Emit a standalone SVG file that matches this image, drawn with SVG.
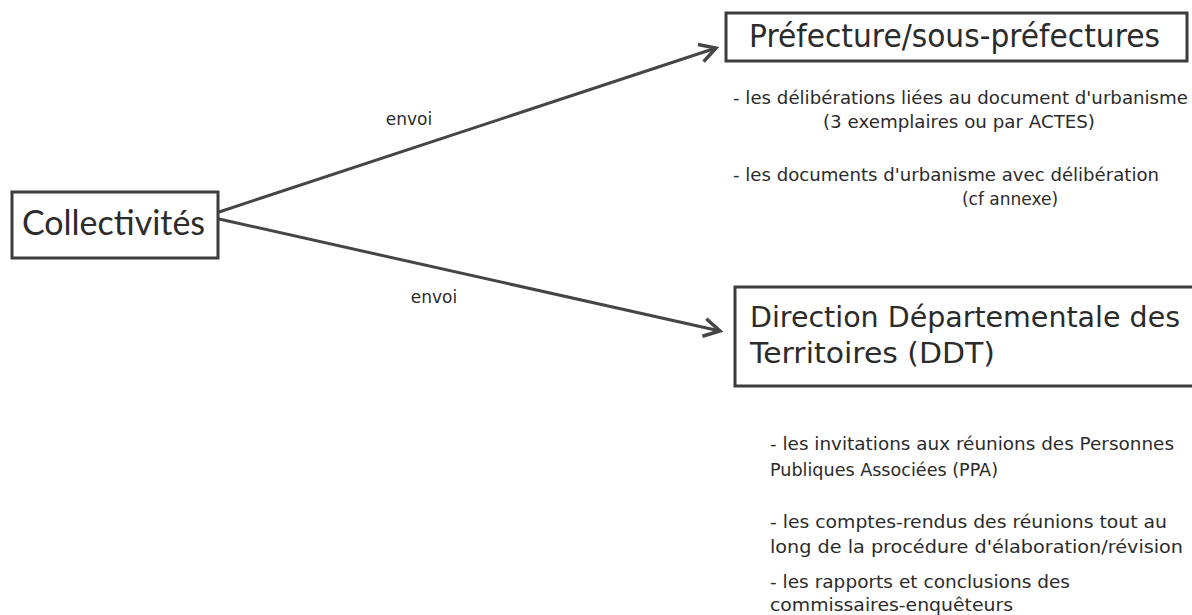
<svg xmlns="http://www.w3.org/2000/svg" width="1192" height="615" viewBox="0 0 1192 615">
  <style>
    .box { fill: #ffffff; stroke: #3c3c3c; stroke-width: 3; }
    .title { font-family: "DejaVu Sans", Verdana, sans-serif; font-size: 32px; fill: #2b2b2b; }
    .ddt { font-family: "DejaVu Sans", Verdana, sans-serif; font-size: 29px; fill: #2b2b2b; }
    .coll { font-family: Lato, "Open Sans", sans-serif; font-size: 34px; fill: #2b2b2b; }
    .small { font-family: "DejaVu Sans", Verdana, sans-serif; font-size: 17px; fill: #2b2b2b; }
    .edge { stroke: #454545; stroke-width: 3; fill: none; }
  </style>
  <defs>
    <marker id="arrow" viewBox="0 0 24 24" refX="21" refY="12" markerWidth="24" markerHeight="24" markerUnits="userSpaceOnUse" orient="auto">
      <path d="M5,3 L21,12 L5,21" fill="none" stroke="#454545" stroke-width="3.5" stroke-linejoin="miter"/>
    </marker>
  </defs>
  <rect width="1192" height="615" fill="#ffffff"/>

  <g id="connectors">
    <line class="edge" x1="219" y1="212" x2="716" y2="48" marker-end="url(#arrow)"/>
    <line class="edge" x1="219" y1="219" x2="720" y2="331" marker-end="url(#arrow)"/>
    <text class="small" x="409" y="125" text-anchor="middle">envoi</text>
    <text class="small" x="434" y="303" text-anchor="middle">envoi</text>
  </g>

  <g id="node-collectivites">
    <rect class="box" x="12" y="192" width="206" height="66"/>
    <text class="coll" x="22" y="235" textLength="183" lengthAdjust="spacingAndGlyphs">Collectivités</text>
  </g>

  <g id="node-prefecture">
    <rect class="box" x="726" y="13" width="461" height="48"/>
    <text class="title" x="749" y="47" textLength="411" lengthAdjust="spacingAndGlyphs">Préfecture/sous-préfectures</text>
  </g>

  <g id="notes-prefecture">
    <text class="small" x="733" y="104" textLength="455" lengthAdjust="spacingAndGlyphs">- les délibérations liées au document d'urbanisme</text>
    <text class="small" x="823" y="128" textLength="272" lengthAdjust="spacingAndGlyphs">(3 exemplaires ou par ACTES)</text>
    <text class="small" x="733" y="181" textLength="426" lengthAdjust="spacingAndGlyphs">- les documents d'urbanisme avec délibération</text>
    <text class="small" x="1010" y="205" text-anchor="middle">(cf annexe)</text>
  </g>

  <g id="node-ddt">
    <path class="box" d="M1192,287 L735,287 L735,386 L1192,386"/>
    <text class="ddt" x="750" y="327" textLength="430" lengthAdjust="spacingAndGlyphs">Direction Départementale des</text>
    <text class="ddt" x="750" y="363" textLength="245" lengthAdjust="spacingAndGlyphs">Territoires (DDT)</text>
  </g>

  <g id="notes-ddt">
    <text class="small" x="770" y="450" textLength="404" lengthAdjust="spacingAndGlyphs">- les invitations aux réunions des Personnes</text>
    <text class="small" x="770" y="476" textLength="228" lengthAdjust="spacingAndGlyphs">Publiques Associées (PPA)</text>
    <text class="small" x="770" y="528" textLength="397" lengthAdjust="spacingAndGlyphs">- les comptes-rendus des réunions tout au</text>
    <text class="small" x="770" y="553" textLength="413" lengthAdjust="spacingAndGlyphs">long de la procédure d'élaboration/révision</text>
    <text class="small" x="770" y="588" textLength="300" lengthAdjust="spacingAndGlyphs">- les rapports et conclusions des</text>
    <text class="small" x="770" y="611" textLength="243" lengthAdjust="spacingAndGlyphs">commissaires-enquêteurs</text>
  </g>
</svg>
